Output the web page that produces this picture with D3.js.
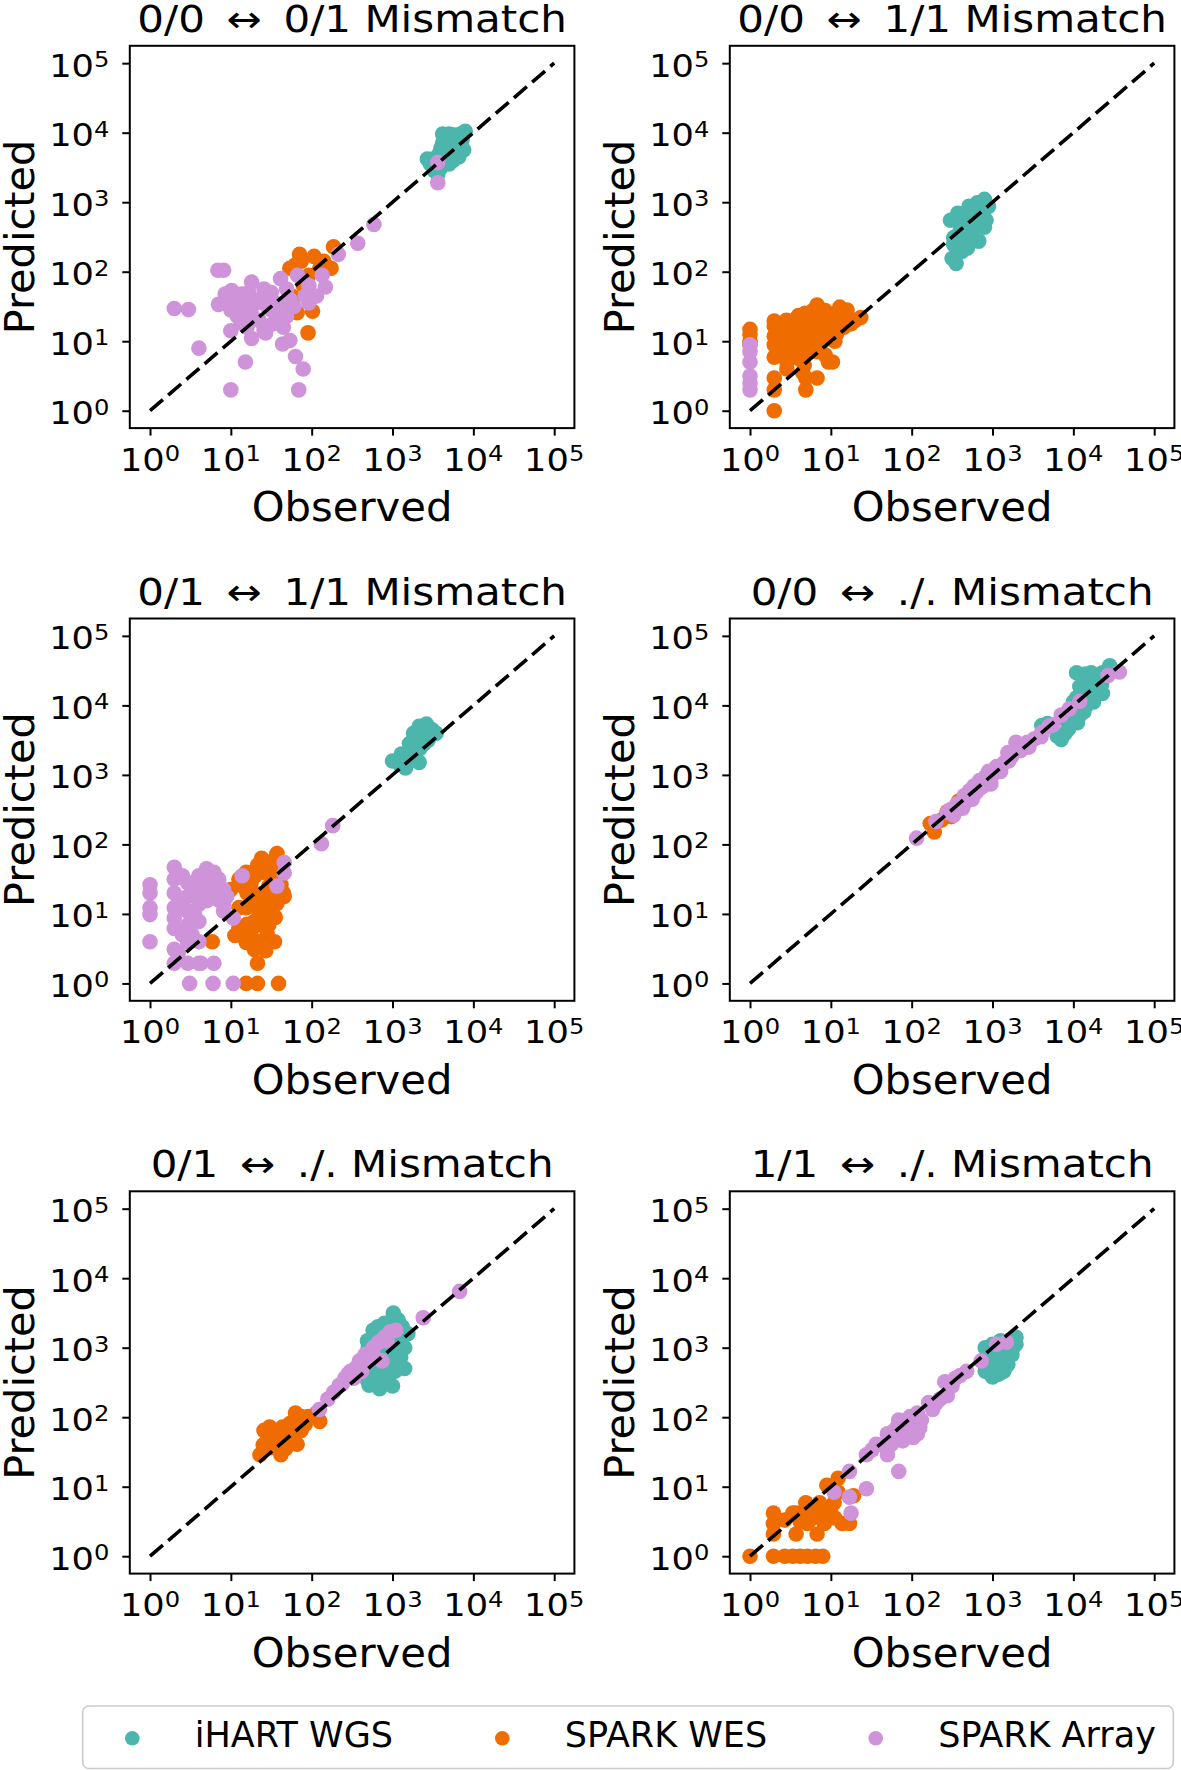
<!DOCTYPE html>
<html><head><meta charset="utf-8">
<script src="https://cdn.jsdelivr.net/npm/d3@7"></script>
<style>html,body{margin:0;padding:0;background:#fff}svg{display:block}text{font-family:"DejaVu Sans";white-space:pre;fill:#000}</style>
</head><body><svg id="c" width="1181" height="1770"></svg>
<script>
// ---- Data (values stored as log10 exponents: [log10 Observed, log10 Predicted]) ----
const seriesNames = ["iHART WGS", "SPARK WES", "SPARK Array"];
const seriesColors = ["#4DB6AC", "#EF6C00", "#CE93D8"];
const panelTitles = ["0/0\u2009 \u2194 \u20090/1 Mismatch", "0/0\u2009 \u2194 \u20091/1 Mismatch",
  "0/1\u2009 \u2194 \u20091/1 Mismatch", "0/0\u2009 \u2194 \u2009./. Mismatch",
  "0/1\u2009 \u2194 \u2009./. Mismatch", "1/1\u2009 \u2194 \u2009./. Mismatch"];
const tickExponents = [0, 1, 2, 3, 4, 5];

const p1_iHART = [[3.43,3.62],[3.47,3.55],[3.52,3.45],[3.56,3.40],[3.60,3.50],[3.58,3.70],[3.62,3.85],[3.65,3.95],[3.70,3.98],[3.75,3.97],[3.80,3.95],[3.90,4.02],[3.85,3.85],[3.88,3.75],[3.82,3.65],[3.75,3.60],[3.70,3.55],[3.66,3.62],[3.72,3.75],[3.68,3.85],[3.78,3.80],[3.63,3.72],[3.57,3.60],[3.55,3.52],[3.80,3.70],[3.74,3.68],[3.86,3.90],[3.60,3.78],[3.64,3.58],[3.69,3.90],[3.50,3.62],[3.62,3.98],[3.84,3.98]];
const p1_WES = [[1.85,2.25],[2.03,2.22],[1.73,2.05],[2.27,2.36],[2.24,2.05],[1.69,1.55],[1.955,1.12],[2.01,1.43],[1.755,1.55],[1.87,2.15],[1.965,1.95],[1.82,1.41],[1.755,1.65],[2.10,2.05],[1.895,1.80],[1.80,2.10],[2.15,2.15]];
const p1_Array = [[0.30,1.47],[0.475,1.455],[0.605,0.90],[0.847,1.53],[0.84,2.02],[0.91,2.02],[1.0,0.30],[1.18,0.70],[1.257,1.04],[0.93,1.68],[1.01,1.73],[1.13,1.68],[1.0,1.45],[1.08,1.36],[1.0,1.15],[1.13,1.26],[1.257,1.85],[1.36,1.60],[1.41,1.16],[1.43,1.12],[1.5,1.45],[1.615,1.90],[1.64,0.96],[1.73,1.01],[1.80,0.78],[1.895,0.60],[1.84,0.30],[1.59,1.31],[1.69,1.36],[1.825,1.95],[1.965,1.80],[2.13,1.95],[2.17,1.78],[1.965,1.55],[1.92,1.65],[2.06,1.65],[2.33,2.25],[2.57,2.41],[2.77,2.68],[3.56,3.57],[3.56,3.28],[1.22,1.70],[1.31,1.55],[1.41,1.75],[1.50,1.70],[1.55,1.55],[1.17,1.55],[1.03,1.55],[1.69,1.75],[1.78,1.50],[1.73,1.60],[1.25,1.40],[1.35,1.30],[1.45,1.50],[1.60,1.45],[1.20,1.20],[1.65,1.20],[1.10,1.45],[1.52,1.25]];

const p2_iHART = [[2.55,2.12],[2.50,2.19],[2.62,2.29],[2.52,2.49],[2.48,2.74],[2.57,2.84],[2.64,2.69],[2.71,2.94],[2.81,2.99],[2.90,3.04],[2.85,2.89],[2.92,2.74],[2.90,2.64],[2.83,2.44],[2.74,2.54],[2.66,2.44],[2.76,2.74],[2.60,2.59],[2.69,2.34],[2.87,2.79],[2.78,2.64],[2.66,2.84],[2.95,2.94],[2.52,2.39],[2.70,2.62],[2.80,2.85],[2.58,2.52]];
const p2_WES = [[0,1.17],[0,1.10],[0,1.0],[0,0.95],[0.30,0.0],[0.30,0.30],[0.30,0.47],[0.30,0.77],[0.30,0.95],[0.30,1.07],[0.30,1.29],[0.30,1.22],[0.456,1.15],[0.456,0.90],[0.456,0.70],[0.60,1.37],[0.60,1.05],[0.60,0.75],[0.69,0.47],[0.69,0.30],[0.67,0.65],[0.83,0.47],[0.78,1.44],[0.83,1.52],[0.93,1.44],[0.74,1.20],[0.88,1.25],[0.97,0.70],[1.02,0.70],[0.93,0.80],[1.02,1.39],[1.11,1.49],[1.11,1.25],[1.21,1.34],[1.37,1.34],[0.55,0.95],[0.385,0.95],[0.78,0.95],[0.83,0.85],[0.97,1.10],[0.69,1.10],[0.53,1.29],[0.78,1.15],[1.07,1.10],[1.25,1.25],[1.16,1.20],[0.456,0.60],[0.38,1.15],[0.45,1.30],[0.50,1.05],[0.62,1.20],[0.65,0.90],[0.70,1.30],[0.75,1.05],[0.80,1.30],[0.85,1.10],[0.90,1.00],[0.95,1.30],[1.00,1.20],[1.05,1.00],[0.65,0.55],[0.55,0.80],[0.40,0.80],[0.88,1.40],[1.15,1.35],[0.72,0.85],[1.30,1.30],[1.20,1.45],[0.68,1.40]];
const p2_Array = [[0,0.95],[0,0.85],[0,0.70],[0,0.50],[0,0.40],[0,0.30]];

const p3_iHART = [[3.0,3.20],[3.16,3.10],[3.11,3.30],[3.21,3.45],[3.26,3.60],[3.33,3.70],[3.42,3.73],[3.49,3.65],[3.54,3.60],[3.44,3.50],[3.34,3.38],[3.25,3.25],[3.30,3.50],[3.37,3.60],[3.23,3.33],[3.39,3.45],[3.09,3.15],[3.33,3.18],[3.21,3.20],[3.44,3.63],[3.28,3.40],[3.18,3.30],[3.38,3.55]];
const p3_WES = [[1.57,1.87],[1.38,1.80],[1.33,1.70],[1.19,1.60],[1.10,1.50],[1.00,1.35],[1.47,1.60],[1.66,1.25],[1.57,1.15],[1.38,1.19],[1.29,1.30],[1.19,1.09],[1.10,1.09],[1.38,0.99],[1.47,0.84],[1.38,0.84],[1.05,0.69],[1.15,0.69],[1.19,0.59],[1.29,0.49],[1.43,0.47],[1.54,0.60],[1.33,0.29],[1.19,0.0],[1.33,0.0],[1.59,0.0],[0.77,0.60],[1.15,1.40],[1.29,0.89],[1.47,1.40],[1.62,1.42],[1.20,1.30],[1.25,1.45],[1.30,1.15],[1.35,1.00],[1.40,1.30],[1.45,1.10],[1.50,1.25],[1.55,1.50],[1.45,0.70],[1.35,0.60],[1.25,0.75],[1.20,0.85],[1.55,0.95],[1.60,1.60],[1.40,1.60],[1.30,1.55],[1.10,0.80],[1.50,1.75],[1.65,1.30]];
const p3_Array = [[0,1.42],[0,1.30],[0,1.09],[0,0.99],[0,0.60],[0.30,1.67],[0.30,1.50],[0.30,1.30],[0.30,1.09],[0.30,0.94],[0.30,0.79],[0.30,0.49],[0.30,0.29],[0.465,1.45],[0.465,1.25],[0.465,1.04],[0.465,0.84],[0.465,0.60],[0.465,0.29],[0.49,0.0],[0.605,1.55],[0.605,1.35],[0.605,1.14],[0.605,0.89],[0.605,0.60],[0.605,0.29],[0.70,1.65],[0.70,1.40],[0.70,1.19],[0.79,1.60],[0.79,1.30],[0.79,0.29],[0.78,0.0],[0.91,1.35],[0.91,1.14],[0.91,1.04],[1.03,0.94],[1.03,0.0],[1.14,1.55],[1.57,1.40],[1.66,1.74],[1.66,1.59],[2.12,2.01],[2.26,2.27],[0.35,0.44],[0.63,0.29],[0.38,1.20],[0.55,1.45],[0.65,1.25],[0.75,1.45],[0.85,1.20],[0.40,1.55],[0.55,1.00],[0.40,0.70],[0.85,1.50],[0.95,1.25],[0.52,0.70]];

const p4_iHART = [[3.61,3.71],[3.85,3.51],[3.80,3.56],[3.94,3.66],[3.89,3.81],[3.99,3.96],[4.04,4.11],[4.08,4.27],[4.13,4.37],[4.22,4.47],[4.36,4.47],[4.31,4.32],[4.36,4.17],[4.22,4.11],[4.08,3.86],[4.17,4.01],[4.26,4.22],[4.45,4.57],[4.04,4.47],[4.13,3.91],[3.68,3.74],[3.95,3.85],[4.00,4.05],[4.10,4.20],[4.20,4.30],[4.30,4.40],[4.15,4.45],[4.25,4.05],[3.90,3.60],[4.05,3.75],[4.18,4.15],[4.35,4.30],[4.40,4.45]];
const p4_WES = [[2.28,2.18],[2.23,2.30],[2.37,2.35],[2.49,2.40],[2.58,2.62],[2.44,2.47],[2.72,2.77]];
const p4_Array = [[2.06,2.09],[2.30,2.33],[2.44,2.46],[2.56,2.58],[2.68,2.62],[2.72,2.77],[2.84,2.92],[2.91,2.97],[2.98,2.87],[3.05,3.12],[3.14,3.17],[3.24,3.27],[3.33,3.42],[3.29,3.47],[3.43,3.47],[3.52,3.52],[3.61,3.61],[3.85,3.86],[4.08,4.06],[4.43,4.43],[4.57,4.48],[2.86,2.82],[2.77,2.84],[2.63,2.52],[2.95,3.05],[2.48,2.50],[3.19,3.32],[2.65,2.70],[2.75,2.65],[2.80,2.75],[2.90,2.85],[3.00,3.00],[3.10,3.05],[3.20,3.20],[3.35,3.35],[3.45,3.40],[3.60,3.55],[3.70,3.70],[3.75,3.72],[3.95,3.95],[2.52,2.42]];

const p5_iHART = [[3.01,3.50],[2.90,3.35],[2.76,3.25],[2.69,3.10],[2.73,2.90],[2.66,2.66],[2.71,2.46],[2.84,2.41],[2.94,2.56],[3.03,2.66],[3.10,2.86],[3.15,3.00],[3.19,3.20],[3.07,3.25],[2.98,3.05],[2.90,2.76],[2.80,2.66],[2.84,2.95],[3.01,2.86],[2.80,3.15],[3.07,3.40],[2.94,3.35],[2.75,2.60],[2.85,2.50],[2.95,2.70],[3.05,2.80],[2.78,2.80],[2.88,3.05],[2.95,3.20],[3.10,3.10],[3.15,2.70],[2.70,3.00],[2.82,3.30],[3.00,2.45],[2.68,2.55],[3.12,3.30],[3.05,3.00]];
const p5_WES = [[1.36,1.46],[1.41,1.81],[1.48,1.86],[1.55,1.76],[1.50,1.56],[1.59,1.66],[1.64,1.86],[1.73,1.91],[1.80,2.06],[1.82,1.61],[1.87,1.81],[1.96,2.01],[2.06,2.06],[2.10,1.94],[1.68,1.76],[1.78,1.66],[1.45,1.66],[1.62,1.46],[1.87,2.01],[1.75,1.81],[1.40,1.60],[1.68,1.55],[1.92,1.90]];
const p5_Array = [[2.095,2.11],[2.20,2.26],[2.27,2.36],[2.34,2.46],[2.41,2.56],[2.48,2.66],[2.55,2.71],[2.59,2.81],[2.66,2.90],[2.76,3.00],[2.83,3.08],[2.90,3.15],[2.97,3.23],[3.04,3.25],[2.87,2.81],[2.52,2.56],[3.38,3.43],[3.83,3.81],[2.38,2.48],[2.62,2.66],[2.76,2.90],[2.45,2.62],[2.70,2.80],[2.93,3.10]];

const p6_iHART = [[2.91,3.00],[3.00,3.05],[3.10,3.10],[3.29,3.05],[3.24,2.90],[3.19,2.76],[3.14,2.66],[3.00,2.58],[2.91,2.66],[2.89,2.81],[3.05,2.85],[3.12,2.95],[3.21,3.00],[2.96,2.71],[3.10,2.71],[3.29,3.15],[3.00,2.75],[3.05,2.95],[3.15,2.85],[3.20,3.10],[2.95,2.90],[3.25,3.00],[3.08,2.62],[3.18,3.02]];
const p6_WES = [[0,0],[0.29,0],[0.43,0],[0.53,0],[0.62,0],[0.71,0],[0.81,0],[0.90,0],[0.29,0.62],[0.29,0.47],[0.29,0.32],[0.43,0.52],[0.57,0.62],[0.57,0.32],[0.69,0.77],[0.71,0.47],[0.81,0.62],[0.83,0.32],[0.92,0.47],[0.95,1.02],[1.04,0.77],[1.09,0.92],[1.14,0.47],[1.23,0.47],[1.28,0.87],[1.09,1.12],[0.53,0.62],[0.86,0.77],[0.995,0.67],[0.71,0.67],[0.62,0.50],[0.78,0.55],[0.95,0.60],[1.05,0.55]];
const p6_Array = [[1.04,0.92],[1.23,0.85],[1.25,0.62],[1.44,0.97],[1.23,1.22],[1.44,1.46],[1.51,1.53],[1.70,1.46],[1.70,1.76],[1.84,1.22],[1.75,1.61],[1.82,1.86],[1.93,1.86],[1.98,2.01],[1.89,1.66],[2.02,1.71],[2.07,1.76],[2.12,1.96],[2.21,2.21],[2.26,2.11],[2.35,2.26],[2.44,2.31],[2.41,2.51],[2.54,2.56],[2.68,2.66],[2.86,2.81],[3.05,3.05],[3.17,3.08],[1.56,1.61],[2.07,2.06],[1.84,1.96],[1.80,1.70],[1.90,1.75],[1.95,1.90],[2.00,1.80],[1.78,1.80],[2.10,1.85],[1.65,1.60],[2.30,2.20],[2.50,2.45],[2.60,2.60]];

const panelSeries = [
  [p1_iHART, p1_WES, p1_Array], [p2_iHART, p2_WES, p2_Array],
  [p3_iHART, p3_WES, p3_Array], [p4_iHART, p4_WES, p4_Array],
  [p5_iHART, p5_WES, p5_Array], [p6_iHART, p6_WES, p6_Array]];

// ---- Layout ----
const svg = d3.select("#c");
svg.append("rect").attr("width", 1181).attr("height", 1770).attr("fill", "#fff");
const colLeft = [129.8, 729.8], rowTop = [45.8, 618.5, 1191.3];
const axW = 444.6, axH = 382.3;
const dom = [Math.pow(10, -0.25), Math.pow(10, 5.25)];

function stext(g, x, y, str, size, sx, anchor) {
  return g.append("text").attr("transform", `translate(${x},${y}) scale(${sx},1)`)
    .attr("font-size", size).attr("text-anchor", anchor).text(str);
}
function powLabel(g, x, y, e, anchor) {
  const t = g.append("text").attr("transform", `translate(${x},${y}) scale(1.1,1)`)
    .attr("font-size", 32).attr("text-anchor", anchor);
  t.append("tspan").text("10");
  t.append("tspan").attr("font-size", 22).attr("dy", -9.5).text(String(e));
}

panelSeries.forEach((series, i) => {
  const L = colLeft[i % 2], T = rowTop[Math.floor(i / 2)];
  const x = d3.scaleLog().domain(dom).range([L, L + axW]);
  const y = d3.scaleLog().domain(dom).range([T + axH, T]);
  const g = svg.append("g");

  const clip = "clip" + i;
  g.append("clipPath").attr("id", clip).append("rect").attr("x", L).attr("y", T).attr("width", axW).attr("height", axH);
  const plot = g.append("g").attr("clip-path", `url(#${clip})`);
  series.forEach((s, k) => {
    plot.append("g").selectAll("circle").data(s).join("circle")
      .attr("cx", d => x(Math.pow(10, d[0]))).attr("cy", d => y(Math.pow(10, d[1])))
      .attr("r", 7.8).attr("fill", seriesColors[k]);
  });
  plot.append("line").attr("x1", x(1)).attr("y1", y(1)).attr("x2", x(1e5)).attr("y2", y(1e5))
    .attr("stroke", "#000").attr("stroke-width", 3.6).attr("stroke-dasharray", "17 7");

  const tv = tickExponents.map(e => Math.pow(10, e));
  const xa = g.append("g").attr("transform", `translate(0,${T + axH})`)
    .call(d3.axisBottom(x).tickValues(tv).tickSizeInner(7.5).tickSizeOuter(0).tickFormat(() => ""));
  const ya = g.append("g").attr("transform", `translate(${L},0)`)
    .call(d3.axisLeft(y).tickValues(tv).tickSizeInner(7.5).tickSizeOuter(0).tickFormat(() => ""));
  [xa, ya].forEach(a => { a.select(".domain").remove(); a.selectAll("line").attr("stroke", "#000").attr("stroke-width", 2); });

  g.append("rect").attr("x", L).attr("y", T).attr("width", axW).attr("height", axH)
    .attr("fill", "none").attr("stroke", "#000").attr("stroke-width", 2);

  tickExponents.forEach(e => {
    powLabel(g, x(Math.pow(10, e)), T + axH + 42.6, e, "middle");
    powLabel(g, L - 20.5, y(Math.pow(10, e)) + 13.4, e, "end");
  });

  stext(g, L + axW / 2, T - 14, panelTitles[i], 37, 1.135, "middle");
  stext(g, L + axW / 2, T + axH + 93, "Observed", 40.5, 1.03, "middle");
  g.append("text").attr("transform", `translate(${L - 96},${T + axH / 2}) rotate(-90)`)
    .attr("font-size", 41.5).attr("text-anchor", "middle").text("Predicted");
});

// ---- Legend ----
const lg = svg.append("g");
lg.append("rect").attr("x", 82.7).attr("y", 1706).attr("width", 1090.6).attr("height", 62.5)
  .attr("rx", 6).attr("fill", "#fff").attr("stroke", "#cccccc").attr("stroke-width", 1.6);
const legendX = [132.3, 502.3, 875.7];
seriesNames.forEach((n, k) => {
  lg.append("circle").attr("cx", legendX[k]).attr("cy", 1738.3).attr("r", 7.3).attr("fill", seriesColors[k]);
  stext(lg, legendX[k] + 62.5, 1746.7, n, 35, 1.0, "start");
});
</script></body></html>
